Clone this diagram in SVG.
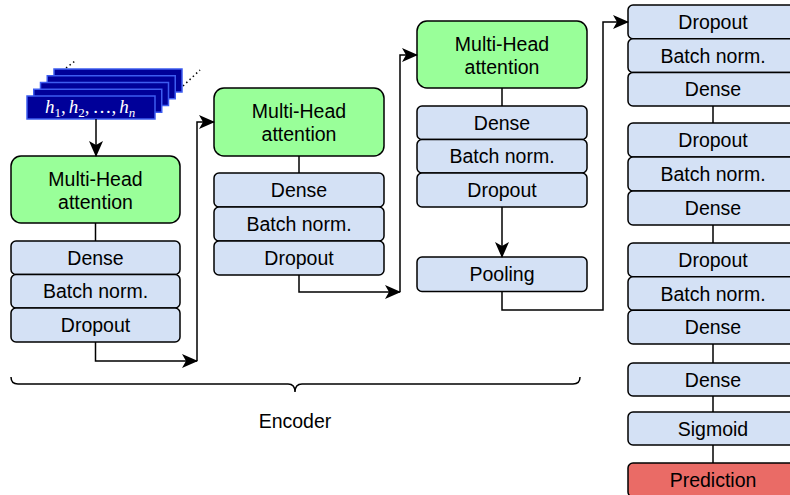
<svg xmlns="http://www.w3.org/2000/svg" width="790" height="495" viewBox="0 0 790 495">
<defs>
<style>
.blk{fill:#d4e1f5;stroke:#000;stroke-width:1.5}
.mha{fill:#99ff99;stroke:#000;stroke-width:1.5}
.pred{fill:#ea6b66;stroke:#000;stroke-width:1.5}
.lbl{font-family:"Liberation Sans",Arial,sans-serif;font-size:19.5px;fill:#000;text-anchor:middle}
.ln{fill:none;stroke:#000;stroke-width:1.5}
.arr{fill:none;stroke:#000;stroke-width:1.5;marker-end:url(#ah)}
.hs{fill:#000099;stroke:#3d5cf0;stroke-width:1.5}
</style>
<marker id="ah" viewBox="0 0 16 14" refX="15" refY="7" markerWidth="16" markerHeight="14" markerUnits="userSpaceOnUse" orient="auto">
<path d="M0,0 L16,7 L0,14 L4,7 Z" fill="#000"/>
</marker>
</defs>
<rect width="790" height="495" fill="#fff"/>

<g id="hidden-states">
<line x1="66" y1="68" x2="75" y2="61" stroke="#000" stroke-width="1.5" stroke-dasharray="1.5,3"/>
<line x1="183" y1="86" x2="200" y2="70" stroke="#000" stroke-width="1.5" stroke-dasharray="1.5,3"/>
<rect class="hs" x="54" y="69" width="128" height="23"/>
<rect class="hs" x="47.25" y="75.75" width="128" height="23"/>
<rect class="hs" x="40.5" y="82.5" width="128" height="23"/>
<rect class="hs" x="33.75" y="89.25" width="128" height="23"/>
<rect class="hs" x="27" y="96" width="128" height="23"/>
<text x="90" y="113" text-anchor="middle" font-family="Liberation Serif,'Times New Roman',serif" font-size="19" fill="#fff"><tspan font-style="italic">h</tspan><tspan dy="4" font-size="13">1</tspan><tspan dy="-4">,</tspan><tspan dx="3" font-style="italic">h</tspan><tspan dy="4" font-size="13">2</tspan><tspan dy="-4">,</tspan><tspan dx="3">…,</tspan><tspan dx="3" font-style="italic">h</tspan><tspan dy="4" font-size="13" font-style="italic">n</tspan></text>
</g>

<g id="encoder1">
<rect class="mha" x="11" y="156" width="169" height="67" rx="10"/>
<text class="lbl" x="95.5" y="186">Multi-Head</text>
<text class="lbl" x="95.5" y="209">attention</text>
<rect class="blk" x="11" y="241" width="169" height="33.5" rx="5"/>
<text class="lbl" x="95.5" y="264.5">Dense</text>
<rect class="blk" x="11" y="274.5" width="169" height="33.5" rx="5"/>
<text class="lbl" x="95.5" y="298">Batch norm.</text>
<rect class="blk" x="11" y="308" width="169" height="34" rx="5"/>
<text class="lbl" x="95.5" y="332">Dropout</text>
</g>

<g id="encoder2">
<rect class="mha" x="214" y="88" width="170" height="68" rx="10"/>
<text class="lbl" x="299" y="118">Multi-Head</text>
<text class="lbl" x="299" y="141">attention</text>
<rect class="blk" x="214" y="173" width="170" height="34" rx="5"/>
<text class="lbl" x="299" y="197">Dense</text>
<rect class="blk" x="214" y="207" width="170" height="34" rx="5"/>
<text class="lbl" x="299" y="231">Batch norm.</text>
<rect class="blk" x="214" y="241" width="170" height="34" rx="5"/>
<text class="lbl" x="299" y="265">Dropout</text>
</g>

<g id="encoder3">
<rect class="mha" x="417" y="21" width="170" height="67" rx="10"/>
<text class="lbl" x="502" y="50.5">Multi-Head</text>
<text class="lbl" x="502" y="73.5">attention</text>
<rect class="blk" x="417" y="106" width="170" height="33.5" rx="5"/>
<text class="lbl" x="502" y="129.5">Dense</text>
<rect class="blk" x="417" y="139.5" width="170" height="33.5" rx="5"/>
<text class="lbl" x="502" y="163">Batch norm.</text>
<rect class="blk" x="417" y="173" width="170" height="34" rx="5"/>
<text class="lbl" x="502" y="197">Dropout</text>
</g>

<g id="pooling">
<rect class="blk" x="417" y="257" width="170" height="34.5" rx="5"/>
<text class="lbl" x="502" y="281">Pooling</text>
</g>

<g id="head1">
<rect class="blk" x="628" y="5" width="170" height="33.7" rx="5"/>
<text class="lbl" x="713" y="28.8">Dropout</text>
<rect class="blk" x="628" y="38.7" width="170" height="33.7" rx="5"/>
<text class="lbl" x="713" y="62.5">Batch norm.</text>
<rect class="blk" x="628" y="72.4" width="170" height="33.6" rx="5"/>
<text class="lbl" x="713" y="96.2">Dense</text>
</g>
<g id="head2">
<rect class="blk" x="628" y="123" width="170" height="34" rx="5"/>
<text class="lbl" x="713" y="147">Dropout</text>
<rect class="blk" x="628" y="157" width="170" height="34" rx="5"/>
<text class="lbl" x="713" y="181">Batch norm.</text>
<rect class="blk" x="628" y="191" width="170" height="34" rx="5"/>
<text class="lbl" x="713" y="215">Dense</text>
</g>
<g id="head3">
<rect class="blk" x="628" y="243" width="170" height="33.7" rx="5"/>
<text class="lbl" x="713" y="266.8">Dropout</text>
<rect class="blk" x="628" y="276.7" width="170" height="33.6" rx="5"/>
<text class="lbl" x="713" y="300.5">Batch norm.</text>
<rect class="blk" x="628" y="310.3" width="170" height="33.7" rx="5"/>
<text class="lbl" x="713" y="334.2">Dense</text>
</g>
<g id="dense-final">
<rect class="blk" x="628" y="363" width="170" height="33" rx="5"/>
<text class="lbl" x="713" y="386.5">Dense</text>
</g>
<g id="sigmoid">
<rect class="blk" x="628" y="412" width="170" height="33" rx="5"/>
<text class="lbl" x="713" y="435.5">Sigmoid</text>
</g>
<g id="prediction">
<rect class="pred" x="628" y="463" width="170" height="34" rx="5"/>
<text class="lbl" x="713" y="487">Prediction</text>
</g>

<g id="brace">
<path class="ln" d="M11,377 Q11,384 18,384 H288 Q295,384 295,392 Q295,384 302,384 H573 Q580,384 580,377"/>
<text class="lbl" x="295" y="428">Encoder</text>
</g>

<g id="connectors">
<path class="arr" d="M96,119 V156"/>
<path class="ln" d="M95.5,223 V241"/>
<path class="arr" d="M95.5,342 V361 H197"/>
<path class="arr" d="M197,361 V122 H214"/>
<path class="ln" d="M299,156 V173"/>
<path class="arr" d="M299,275 V292 H400"/>
<path class="arr" d="M400,292 V55 H417"/>
<path class="ln" d="M502,88 V106"/>
<path class="arr" d="M502,207 V257"/>
<path class="arr" d="M502,291.5 V310 H603 V22 H628"/>
<path class="ln" d="M713,106 V123"/>
<path class="ln" d="M713,225 V243"/>
<path class="ln" d="M713,344 V363"/>
<path class="ln" d="M713,396 V412"/>
<path class="ln" d="M713,445 V463"/>
</g>
</svg>
